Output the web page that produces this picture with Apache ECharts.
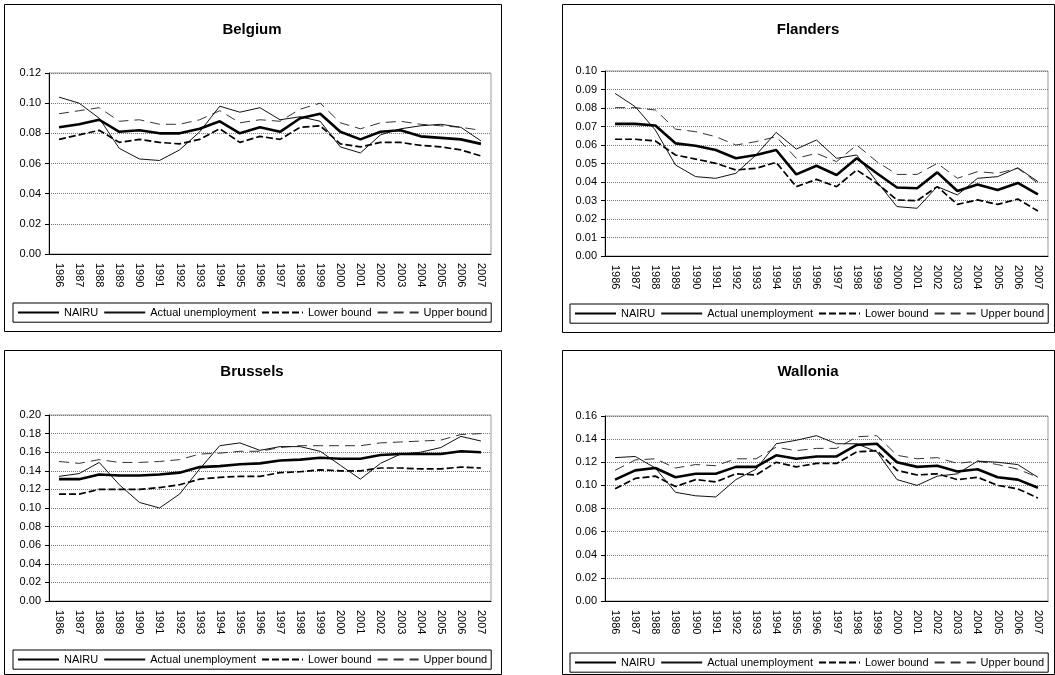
<!DOCTYPE html>
<html>
<head>
<meta charset="utf-8">
<script src="https://cdn.jsdelivr.net/npm/echarts@6/dist/echarts.min.js"></script>
<style>
  html, body { margin: 0; padding: 0; background: #fff; }
  #chart { width: 1055px; height: 675px; }
</style>
</head>
<body>
<div id="chart"></div>
<script>
// ---- data ----
const years = ['1986', '1987', '1988', '1989', '1990', '1991', '1992', '1993', '1994', '1995', '1996',
               '1997', '1998', '1999', '2000', '2001', '2002', '2003', '2004', '2005', '2006', '2007'];

const seriesNames = ['NAIRU', 'Actual unemployment', 'Lower bound', 'Upper bound'];
const regionTitles = ['Belgium', 'Flanders', 'Brussels', 'Wallonia'];
const yMax = [0.12, 0.10, 0.20, 0.16];
const yStep = [0.02, 0.01, 0.02, 0.02];

const belgiumNairu  = [0.084, 0.086, 0.089, 0.081, 0.082, 0.080, 0.080, 0.083, 0.088, 0.080, 0.084, 0.081, 0.090, 0.093, 0.081, 0.076, 0.081, 0.082, 0.078, 0.077, 0.076, 0.073];
const belgiumActual = [0.104, 0.100, 0.090, 0.070, 0.063, 0.062, 0.069, 0.081, 0.098, 0.094, 0.097, 0.089, 0.091, 0.088, 0.071, 0.067, 0.079, 0.083, 0.085, 0.086, 0.084, 0.075];
const belgiumLower  = [0.076, 0.079, 0.082, 0.074, 0.076, 0.074, 0.073, 0.076, 0.083, 0.074, 0.078, 0.076, 0.084, 0.085, 0.073, 0.071, 0.074, 0.074, 0.072, 0.071, 0.069, 0.065];
const belgiumUpper  = [0.093, 0.095, 0.097, 0.088, 0.089, 0.086, 0.086, 0.089, 0.095, 0.087, 0.089, 0.088, 0.096, 0.100, 0.087, 0.083, 0.087, 0.088, 0.086, 0.085, 0.084, 0.082];

const flandersNairu  = [0.0714, 0.0714, 0.0705, 0.0609, 0.0596, 0.0573, 0.0528, 0.0546, 0.0573, 0.0441, 0.0488, 0.0438, 0.0528, 0.0447, 0.0370, 0.0366, 0.0452, 0.0351, 0.0387, 0.0357, 0.0395, 0.0333];
const flandersActual = [0.0879, 0.0807, 0.0681, 0.0492, 0.0429, 0.0420, 0.0447, 0.0546, 0.0668, 0.0578, 0.0627, 0.0528, 0.0546, 0.0402, 0.0267, 0.0258, 0.0375, 0.0330, 0.0420, 0.0429, 0.0477, 0.0402];
const flandersLower  = [0.0631, 0.0631, 0.0622, 0.0546, 0.0524, 0.0501, 0.0465, 0.0474, 0.0506, 0.0375, 0.0414, 0.0375, 0.0465, 0.0393, 0.0303, 0.0299, 0.0375, 0.0279, 0.0303, 0.0279, 0.0308, 0.0243];
const flandersUpper  = [0.0802, 0.0802, 0.0789, 0.0686, 0.0672, 0.0645, 0.0600, 0.0618, 0.0645, 0.0528, 0.0555, 0.0510, 0.0600, 0.0510, 0.0441, 0.0441, 0.0501, 0.0420, 0.0456, 0.0447, 0.0474, 0.0393];

const brusselsNairu  = [0.131, 0.131, 0.136, 0.135, 0.135, 0.136, 0.138, 0.144, 0.145, 0.147, 0.148, 0.151, 0.152, 0.154, 0.153, 0.153, 0.157, 0.158, 0.158, 0.158, 0.161, 0.160];
const brusselsActual = [0.134, 0.137, 0.149, 0.125, 0.106, 0.100, 0.115, 0.142, 0.167, 0.170, 0.162, 0.166, 0.166, 0.161, 0.146, 0.131, 0.148, 0.158, 0.160, 0.165, 0.177, 0.172];
const brusselsLower  = [0.115, 0.115, 0.120, 0.120, 0.120, 0.122, 0.125, 0.131, 0.133, 0.134, 0.134, 0.138, 0.139, 0.141, 0.140, 0.140, 0.143, 0.143, 0.142, 0.142, 0.144, 0.143];
const brusselsUpper  = [0.150, 0.148, 0.152, 0.149, 0.149, 0.150, 0.152, 0.158, 0.159, 0.161, 0.161, 0.165, 0.167, 0.167, 0.167, 0.167, 0.170, 0.171, 0.172, 0.173, 0.179, 0.180];

const walloniaNairu  = [0.105, 0.113, 0.115, 0.107, 0.110, 0.110, 0.116, 0.116, 0.126, 0.123, 0.125, 0.125, 0.135, 0.136, 0.120, 0.116, 0.117, 0.112, 0.114, 0.107, 0.105, 0.098];
const walloniaActual = [0.124, 0.125, 0.115, 0.094, 0.091, 0.090, 0.105, 0.114, 0.136, 0.139, 0.143, 0.136, 0.136, 0.129, 0.105, 0.100, 0.108, 0.110, 0.121, 0.120, 0.118, 0.107];
const walloniaLower  = [0.097, 0.106, 0.108, 0.099, 0.105, 0.103, 0.110, 0.109, 0.120, 0.116, 0.119, 0.119, 0.129, 0.130, 0.113, 0.109, 0.110, 0.105, 0.107, 0.100, 0.097, 0.089];
const walloniaUpper  = [0.113, 0.122, 0.123, 0.115, 0.118, 0.117, 0.123, 0.123, 0.133, 0.130, 0.132, 0.132, 0.142, 0.143, 0.126, 0.123, 0.124, 0.119, 0.121, 0.118, 0.114, 0.107];

const regionData = [
  [belgiumNairu, belgiumActual, belgiumLower, belgiumUpper],
  [flandersNairu, flandersActual, flandersLower, flandersUpper],
  [brusselsNairu, brusselsActual, brusselsLower, brusselsUpper],
  [walloniaNairu, walloniaActual, walloniaLower, walloniaUpper]
];

// ---- layout of the four panels ----
const FONT = '"Liberation Sans", Arial, sans-serif';
const panels = [
  { box: [4, 4, 497, 327],   grid: [49, 73, 442, 181],  legend: [13, 303],  titleX: 252, titleY: 22 },
  { box: [562, 4, 492, 328], grid: [605, 71, 443, 185], legend: [570, 304], titleX: 808, titleY: 22 },
  { box: [4, 350, 497, 324], grid: [49, 415, 442, 186], legend: [13, 650],  titleX: 252, titleY: 364 },
  { box: [562, 350, 492, 324], grid: [605, 416, 443, 185], legend: [570, 653], titleX: 808, titleY: 364 }
];

// line look for each series (NAIRU, actual, lower, upper)
const lineLooks = [
  { color: '#000', width: 2.6, type: 'solid' },
  { color: '#111', width: 1, type: 'solid' },
  { color: '#000', width: 1.7, type: [7, 3] },
  { color: '#333', width: 1, type: [10, 6] }
];

const grids = [], xAxes = [], yAxes = [], series = [], legends = [], graphics = [];

panels.forEach((p, i) => {
  graphics.push({
    type: 'rect', z: -10,
    shape: { x: p.box[0] + 0.5, y: p.box[1] + 0.5, width: p.box[2], height: p.box[3] },
    style: { fill: '#fff', stroke: '#000', lineWidth: 1 }
  });
  graphics.push({
    type: 'text', x: p.titleX, y: p.titleY,
    style: { text: regionTitles[i], align: 'center', verticalAlign: 'top',
             fontSize: 15, fontWeight: 'bold', fontFamily: FONT, fill: '#000' }
  });

  grids.push({
    left: p.grid[0], top: p.grid[1], width: p.grid[2], height: p.grid[3],
    show: true, borderColor: '#999', borderWidth: 1, backgroundColor: 'transparent'
  });

  xAxes.push({
    type: 'category', gridIndex: i, data: years, boundaryGap: true,
    axisLine: { show: true, lineStyle: { color: '#000', width: 1 } },
    axisTick: { show: false },
    axisLabel: { rotate: -90, margin: 9, fontSize: 11, color: '#000', fontFamily: FONT, interval: 0 },
    splitLine: { show: false }
  });

  yAxes.push({
    type: 'value', gridIndex: i, min: 0, max: yMax[i], interval: yStep[i],
    axisLine: { show: true, lineStyle: { color: '#000', width: 1 } },
    axisTick: { show: true, length: 4, lineStyle: { color: '#000' } },
    axisLabel: { margin: 8, fontSize: 11, color: '#000', fontFamily: FONT,
                 formatter: v => v.toFixed(2) },
    splitLine: { show: true, lineStyle: { color: '#777', width: 1, type: 'dotted' } }
  });

  seriesNames.forEach((name, k) => {
    series.push({
      name: name, type: 'line', xAxisIndex: i, yAxisIndex: i,
      data: regionData[i][k],
      symbol: 'none', showSymbol: false, smooth: false,
      lineStyle: lineLooks[k],
      z: 10 - k
    });
  });

  legends.push({
    data: seriesNames, left: p.legend[0], top: p.legend[1],
    orient: 'horizontal', itemWidth: 41, itemHeight: 14, itemGap: 5,
    padding: [4, 4], borderColor: '#000', borderWidth: 1, backgroundColor: '#fff',
    selectedMode: false,
    itemStyle: { opacity: 0 },
    textStyle: { fontSize: 11, color: '#000', fontFamily: FONT }
  });
});

const chart = echarts.init(document.getElementById('chart'), null, { renderer: 'canvas' });
chart.setOption({
  animation: false,
  backgroundColor: '#fff',
  graphic: graphics,
  grid: grids,
  xAxis: xAxes,
  yAxis: yAxes,
  legend: legends,
  series: series
});
</script>
</body>
</html>
